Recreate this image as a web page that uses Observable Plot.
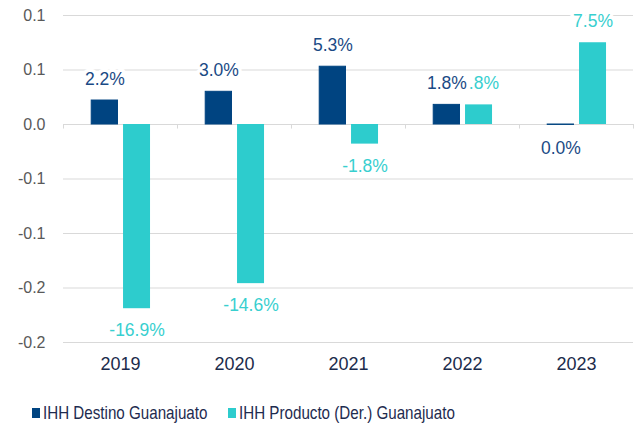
<!DOCTYPE html>
<html>
<head>
<meta charset="utf-8">
<script src="https://cdn.jsdelivr.net/npm/d3@7"></script>
<script src="https://cdn.jsdelivr.net/npm/@observablehq/plot@0.6"></script>
<style>
  body { margin: 0; background: #fff; font-family: "Liberation Sans", Arial, sans-serif; }
  #chart svg { display: block; }
  .legend { position: relative; height: 43px; font-family: "Liberation Sans", Arial, sans-serif; font-size: 18.5px; line-height: 20px; color: #1e2b4f; white-space: nowrap; }
  .legend .sw { position: absolute; width: 8px; height: 10px; top: 28px; }
  .legend .tx { position: absolute; top: 23px; display: inline-block; transform: scaleX(0.82); transform-origin: left center; }
</style>
</head>
<body>
<div id="chart"></div>
<div class="legend" id="legend"></div>
<script>
const years = ["2019", "2020", "2021", "2022", "2023"];
const destino = [0.022, 0.030, 0.053, 0.018, -0.0004];
const producto = [-0.169, -0.146, -0.018, 0.018, 0.075];
const seriesNames = ["IHH Destino Guanajuato", "IHH Producto (Der.) Guanajuato"];
const seriesColors = ["#004481", "#2dcccd"];
const labelColors = ["#1a4a85", "#38cfcf"];
const yTicks = [0.1, 0.05, 0, -0.05, -0.1, -0.15, -0.2];
const yTickLabels = ["0.1", "0.1", "0.0", "-0.1", "-0.1", "-0.2", "-0.2"];

const W = 635, H = 380, mL = 63, mR = 2, mT = 15, mB = 38;
const bw = (W - mL - mR) / years.length;

const dataD = years.map((y, i) => ({year: y, value: destino[i]}));
const dataP = years.map((y, i) => ({year: y, value: producto[i]}));
const fmt = v => (Math.round(v * 1000) / 10).toFixed(1) + "%";

const dIn = {l: bw * 0.2475, r: bw * 0.522};
const pIn = {l: bw * 0.531, r: bw * 0.241};
const dDx = (dIn.l + (bw - dIn.r)) / 2 - bw / 2;
const pDx = (pIn.l + (bw - pIn.r)) / 2 - bw / 2;
const halo = {stroke: "white", strokeWidth: 7, paintOrder: "stroke", fontSize: 17.5};

const plot = Plot.plot({
  width: W, height: H,
  marginLeft: mL, marginRight: mR, marginTop: mT, marginBottom: mB,
  style: {fontFamily: "'Liberation Sans', Arial, sans-serif", background: "#fff"},
  x: {type: "band", domain: years, padding: 0},
  y: {domain: [-0.2, 0.1]},
  marks: [
    Plot.ruleY(yTicks, {stroke: "#d9d9d9", strokeWidth: 1}),
    Plot.ruleX(years, {x: d => d, y1: 0, y2: -0.0042, dx: -bw / 2, stroke: "#d9d9d9"}),
    Plot.ruleX(years.slice(-1), {x: d => d, y1: 0, y2: -0.0042, dx: bw / 2, stroke: "#d9d9d9"}),
    Plot.barY(dataD, {x: "year", y: "value", fill: seriesColors[0], stroke: seriesColors[0], strokeWidth: 1, insetLeft: dIn.l, insetRight: dIn.r}),
    Plot.barY(dataP, {x: "year", y: "value", fill: seriesColors[1], insetLeft: pIn.l - 0.5, insetRight: pIn.r - 0.5}),
    Plot.text(dataP.filter(d => d.value > 0), {x: "year", y: "value", text: d => fmt(d.value), dx: pDx, dy: -21, fill: labelColors[1], ...halo}),
    Plot.text(dataP.filter(d => d.value <= 0), {x: "year", y: "value", text: d => fmt(d.value), dx: pDx, dy: 22, fill: labelColors[1], ...halo}),
    Plot.text(dataD.filter(d => d.value > 0), {x: "year", y: "value", text: d => fmt(d.value), dx: dDx, dy: -21, fill: labelColors[0], ...halo}),
    Plot.text(dataD.filter(d => d.value <= 0), {x: "year", y: "value", text: d => fmt(d.value), dx: dDx, dy: 23, fill: labelColors[0], ...halo}),
    Plot.axisY({ticks: yTicks, tickFormat: (d) => yTickLabels[yTicks.indexOf(d)], tickSize: 0, tickPadding: 18, fill: "#595959", fontSize: 16, label: null}),
    Plot.axisX({tickSize: 0, tickPadding: 15, fill: "#1b2b4b", fontSize: 18, label: null})
  ]
});
document.getElementById("chart").appendChild(plot);

const legendX = [32, 228];
const legend = document.getElementById("legend");
seriesNames.forEach((n, i) => {
  const sw = document.createElement("span");
  sw.className = "sw";
  sw.style.background = seriesColors[i];
  sw.style.left = legendX[i] + "px";
  legend.appendChild(sw);
  const tx = document.createElement("span");
  tx.className = "tx";
  tx.style.left = (legendX[i] + 11) + "px";
  tx.textContent = n;
  legend.appendChild(tx);
});
</script>
</body>
</html>
